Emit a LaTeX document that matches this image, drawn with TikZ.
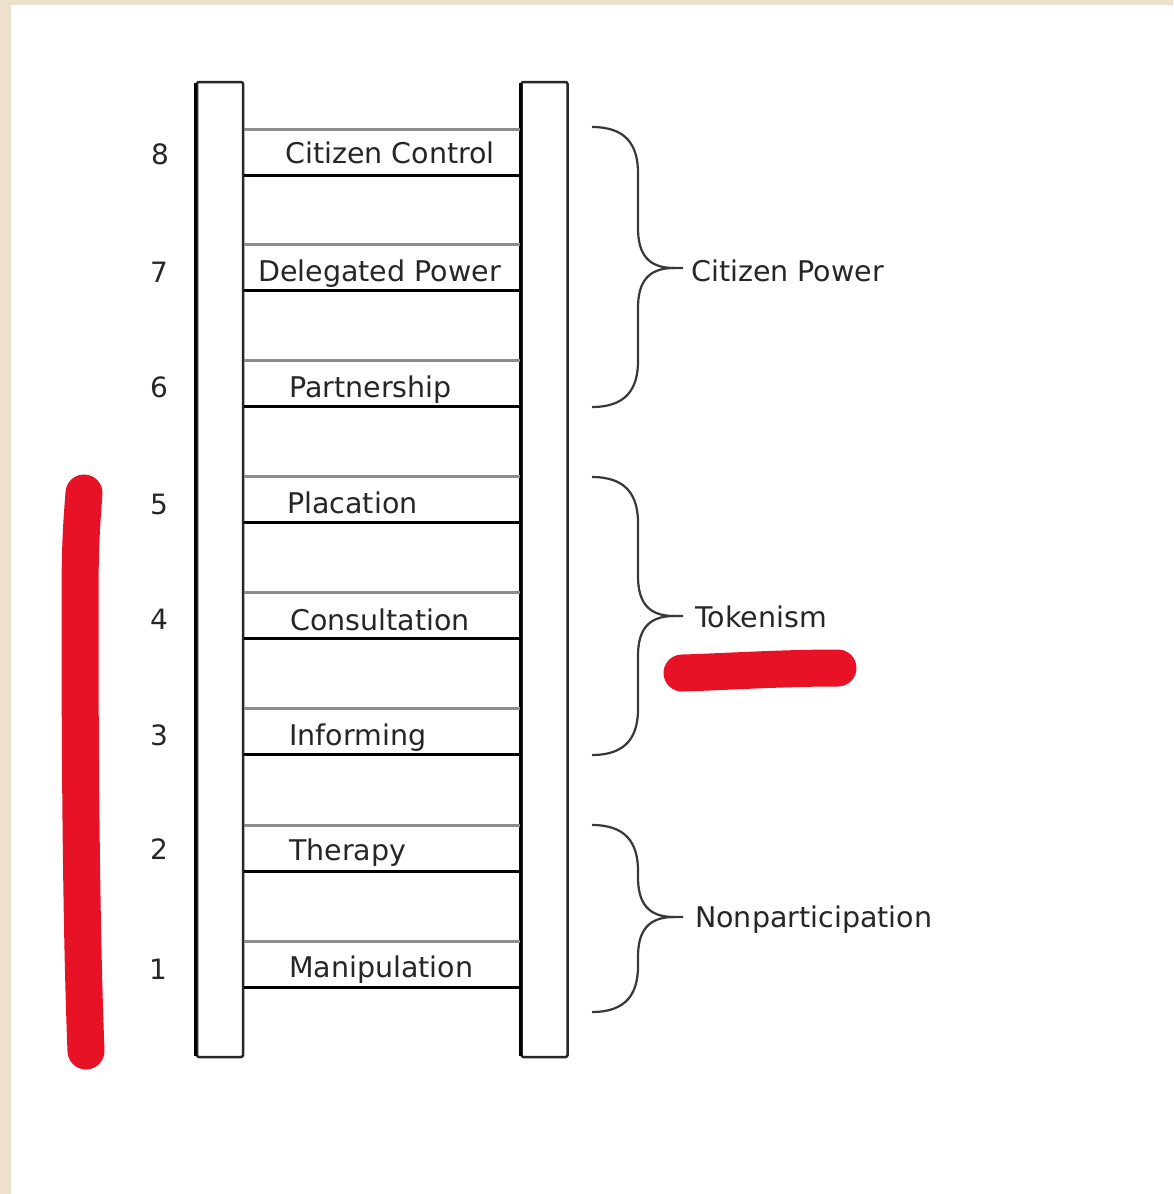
\documentclass[tikz,border=0pt]{standalone}
\usepackage{fontspec}
\setmainfont{DejaVu Sans}
\definecolor{beige}{HTML}{EDE0CC}
\definecolor{redmark}{HTML}{E81227}
\definecolor{runggray}{HTML}{8C8C8C}
\definecolor{txt}{HTML}{262626}
\begin{document}
\begin{tikzpicture}[x=1pt,y=-1pt,
  rail/.style={draw=black!85, line width=2.5pt, rounded corners=2pt, minimum width=46pt, minimum height=975pt, inner sep=0pt},
  railedge/.style={black, line width=3.2pt},
  rungtop/.style={runggray, line width=3pt},
  rungbot/.style={black, line width=3pt},
  lbl/.style={anchor=base west, inner sep=0pt, text=txt, font=\fontsize{28.5}{34}\selectfont},
  num/.style={anchor=base, inner sep=0pt, text=txt, font=\fontsize{28}{34}\selectfont},
  bracepath/.style={draw=black!78, line width=2.2pt},
  marker/.style={draw=redmark, line width=37pt, line cap=round, line join=round}
]
% background
\fill[beige] (0,0) rectangle (1173,1194);
\fill[white] (11,5) rectangle (1173,1194);
\useasboundingbox (0,0) rectangle (1173,1194);

% rails
\node[rail] (lrail) at (220,569.5) {};
\node[rail] (rrail) at (544.5,569.5) {};
\draw[railedge] ([yshift=-2pt]lrail.north west) -- ([yshift=2pt]lrail.south west);
\draw[railedge] ([yshift=-2pt]rrail.north west) -- ([yshift=2pt]rrail.south west);

% rungs
\foreach \t [count=\i] in {129,244,360,476,592,708,825,941}{
  \coordinate (tl\i) at (lrail.east |- 0,\t);
  \coordinate (tr\i) at (rrail.west |- 0,\t);
  \coordinate (bl\i) at (lrail.east |- 0,\t+46);
  \coordinate (br\i) at (rrail.west |- 0,\t+46);
  \draw[rungtop] (tl\i) -- (tr\i);
  \draw[rungbot] (bl\i) -- (br\i);
}

% rung labels
\node[lbl] (l8) at (285,163) {Citizen Control};
\node[lbl] (l7) at (258,281) {Delegated Power};
\node[lbl] (l6) at (289,397) {Partnership};
\node[lbl] (l5) at (287,513) {Placation};
\node[lbl] (l4) at (290,630) {Consultation};
\node[lbl] (l3) at (289,745) {Informing};
\node[lbl] (l2) at (289,860) {Therapy};
\node[lbl] (l1) at (289,977) {Manipulation};

% numbers
\node[num] (n8) at (160,164) {8};
\node[num] (n7) at (159,282) {7};
\node[num] (n6) at (159,397) {6};
\node[num] (n5) at (159,514) {5};
\node[num] (n4) at (159,629) {4};
\node[num] (n3) at (159,745) {3};
\node[num] (n2) at (159,859) {2};
\node[num] (n1) at (158,979) {1};

% braces
\foreach \T/\B/\M/\nm in {127/407/268/a, 477/755/616/b, 825/1012/917/c}{
  \coordinate (\nm top) at (592,\T);
  \coordinate (\nm bot) at (592,\B);
  \coordinate (\nm tip) at (683,\M);
  \draw[bracepath] (\nm top) .. controls (626,\T) and (638,\T+18) .. (638,\T+46)
    -- (638,\M-40) .. controls (638,\M-14) and (648,\M) .. (674,\M) -- (\nm tip);
  \draw[bracepath] (674,\M) .. controls (648,\M) and (638,\M+14) .. (638,\M+40)
    -- (638,\B-46) .. controls (638,\B-18) and (626,\B) .. (\nm bot);
}
\node[lbl] (cp) at (691,281) {Citizen Power};
\node[lbl] (tk) at (695,627) {Tokenism};
\node[lbl] (np) at (695,927) {Nonparticipation};

% red marks
\coordinate (rv1) at (84,493);
\coordinate (rv2) at (86,1051);
\draw[marker] (rv1) .. controls (82,520) and (80,540) .. (80,600)
  .. controls (80,800) and (82,950) .. (rv2);
\coordinate (rh1) at (682,673);
\coordinate (rh2) at (838,668);
\draw[marker] (rh1) .. controls (720,672) and (780,668) .. (rh2);
\end{tikzpicture}
\end{document}
